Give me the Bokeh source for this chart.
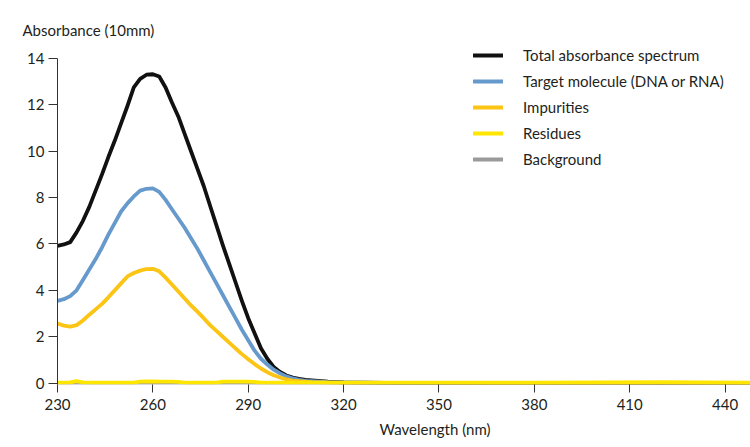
from bokeh.plotting import figure
from bokeh.models import FixedTicker, Legend, LegendItem, Title
from bokeh.embed import file_html
from bokeh.resources import INLINE

wavelength = [230, 232, 234, 236, 238, 240, 242, 244, 246, 248, 250, 252, 254, 256, 258,
              260, 262, 264, 266, 268, 270, 272, 274, 276, 278, 280, 282, 284, 286, 288,
              290, 292, 294, 296, 298, 300, 302, 304, 306, 308, 310, 315, 320, 340, 380,
              420, 448]

total = [5.92, 5.98, 6.08, 6.5, 7.0, 7.6, 8.3, 9.0, 9.75, 10.45, 11.2, 11.95, 12.75, 13.12, 13.3,
         13.32, 13.22, 12.75, 12.1, 11.5, 10.75, 10.0, 9.25, 8.5, 7.65, 6.8, 5.95, 5.15, 4.35, 3.55,
         2.8, 2.15, 1.5, 1.05, 0.7, 0.48, 0.33, 0.24, 0.18, 0.14, 0.12, 0.06, 0.03, 0.0, 0.0,
         0.0, 0.0]

target = [3.55, 3.62, 3.75, 4.0, 4.45, 4.9, 5.35, 5.85, 6.4, 6.9, 7.4, 7.75, 8.05, 8.3, 8.38,
          8.4, 8.25, 7.9, 7.5, 7.1, 6.7, 6.25, 5.8, 5.3, 4.8, 4.3, 3.8, 3.3, 2.8, 2.3,
          1.85, 1.4, 1.05, 0.8, 0.58, 0.42, 0.29, 0.2, 0.14, 0.1, 0.08, 0.04, 0.02, 0.0, 0.0,
          0.0, 0.0]

impurities = [2.57, 2.48, 2.44, 2.5, 2.7, 2.95, 3.18, 3.42, 3.7, 4.0, 4.3, 4.6, 4.75, 4.85, 4.92,
              4.93, 4.82, 4.55, 4.25, 3.95, 3.65, 3.35, 3.08, 2.8, 2.5, 2.25, 2.0, 1.75, 1.5, 1.25,
              1.03, 0.82, 0.63, 0.47, 0.34, 0.24, 0.16, 0.11, 0.08, 0.06, 0.04, 0.02, 0.01, 0.01, 0.0,
              0.0, 0.0]

residues = [0.02, 0.02, 0.03, 0.09, 0.03, 0.02, 0.02, 0.02, 0.02, 0.02, 0.02, 0.02, 0.02, 0.06, 0.07,
            0.07, 0.06, 0.06, 0.06, 0.05, 0.02, 0.02, 0.02, 0.02, 0.02, 0.02, 0.06, 0.06, 0.06, 0.06,
            0.06, 0.05, 0.02, 0.02, 0.02, 0.02, 0.02, 0.02, 0.02, 0.02, 0.02, 0.02, 0.02, 0.02, 0.02,
            0.04, 0.02]

background = [0.01] * len(wavelength)

x_ticks = [230, 260, 290, 320, 350, 380, 410, 440]
y_ticks = [0, 2, 4, 6, 8, 10, 12, 14]

series_names = ["Total absorbance spectrum", "Target molecule (DNA or RNA)", "Impurities",
                "Residues", "Background"]
series_colors = ["#111111", "#6699cc", "#fcc414", "#ffe600", "#9a9a9a"]

FONT = "Lato"
TEXT = "#231f20"
FS = "15px"

p = figure(width=750, height=447, output_backend="svg", toolbar_location=None,
           x_range=(230, 448), y_range=(-0.06, 14.56),
           min_border_left=57, min_border_right=0, min_border_top=45, min_border_bottom=63)
p.background_fill_color = "white"
p.border_fill_color = "white"
p.outline_line_color = None
p.xgrid.grid_line_color = None
p.ygrid.grid_line_color = None

order = [4, 0, 1, 2, 3]
data = [total, target, impurities, residues, background]
renderers = {}
for i in order:
    renderers[i] = p.line(wavelength, data[i], line_color=series_colors[i], line_width=3.8,
                          line_join="round", line_cap="round")

# Axes
p.xaxis.ticker = FixedTicker(ticks=x_ticks)
p.yaxis.ticker = FixedTicker(ticks=y_ticks)
for ax in (p.xaxis, p.yaxis):
    ax.major_label_text_font = FONT
    ax.major_label_text_font_size = FS
    ax.major_label_text_color = TEXT
    ax.major_tick_in = 0
    ax.minor_tick_line_color = None
    ax.major_tick_line_color = "#333333"
    ax.axis_line_color = "#333333"
p.xaxis.axis_line_color = None
p.xaxis.major_tick_out = 8
p.xaxis.major_label_standoff = 6
p.yaxis.major_tick_out = 9
p.yaxis.major_label_standoff = 4
p.yaxis.bounds = (-0.1, 14)

# Axis titles
p.title.text = "Absorbance (10mm)"
p.title.align = "left"
p.title.offset = -35
p.title.text_font = FONT
p.title.text_font_size = FS
p.title.text_font_style = "normal"
p.title.text_color = TEXT
p.title.standoff = 14

xtitle = Title(text="Wavelength (nm)", align="left", offset=322, text_font=FONT,
               text_font_size=FS, text_font_style="normal", text_color=TEXT, standoff=10)
p.add_layout(xtitle, "below")

items = [LegendItem(label=series_names[i], renderers=[renderers[i]]) for i in range(5)]
legend = Legend(items=items, location=(416, 215))
legend.border_line_color = None
legend.background_fill_alpha = 0
legend.padding = 0
legend.margin = 0
legend.spacing = 6
legend.glyph_width = 30
legend.glyph_height = 20
legend.label_height = 20
legend.label_standoff = 20
legend.label_text_font = FONT
legend.label_text_font_size = FS
legend.label_text_color = TEXT
p.add_layout(legend)

open("out.html", "w").write(file_html(p, INLINE))
